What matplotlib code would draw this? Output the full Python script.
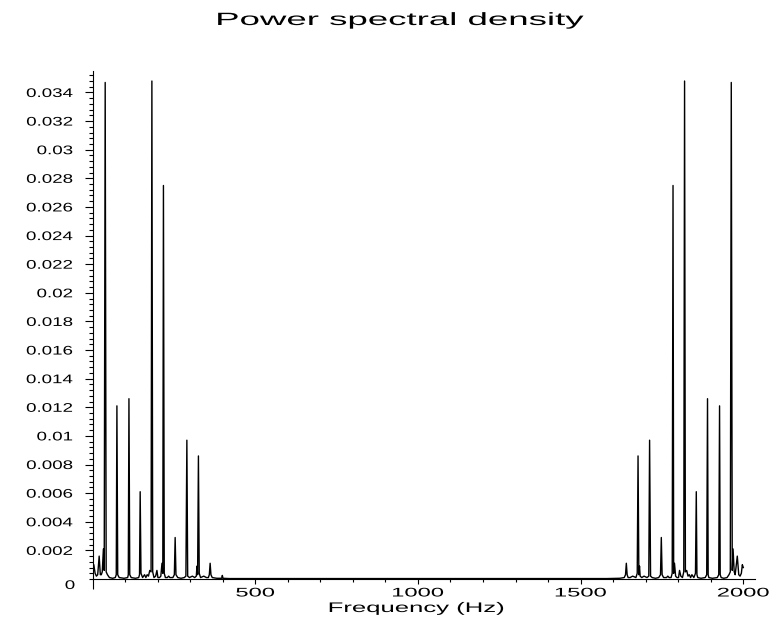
import matplotlib
matplotlib.use('Agg')
import matplotlib.pyplot as plt
from matplotlib.patheffects import AbstractPathEffect
from matplotlib.transforms import Affine2D
from matplotlib.ticker import MultipleLocator

plt.rcParams['font.family'] = ['Liberation Sans', 'DejaVu Sans']

# 低频一侧 (Hz, PSD)
left_freq = [0, 4, 8, 12, 16, 20.5, 24, 27, 30, 33.5, 36, 39, 42, 46, 52, 62,
             70, 73, 75, 77.5, 82, 97, 108, 110, 112, 114.5, 119, 132, 142,
             144.5, 146.5, 149, 154, 160, 164, 168, 172, 176, 180, 182.5, 185,
             189, 194, 198, 201, 206, 210, 213.5, 216, 218, 220.5, 224, 230,
             234, 238, 247, 251.5, 254, 256.5, 262, 272, 282, 287, 290, 292.5,
             298, 307, 314, 319, 321, 323, 325.5, 328, 332, 342, 350, 356, 359,
             361.5, 364, 368, 382, 397, 399, 401, 420]
left_psd = [0.0008, 0.0010, 0.0004, 0.0002, 0.0003, 0.0016, 0.0003, 0.0003,
            0.0005, 0.0021, 0.0006, 0.0347, 0.0005, 0.0003, 0.0001, 0.00005,
            0.0001, 0.0003, 0.0121, 0.0003, 0.0001, 0.00005, 0.0001, 0.0003,
            0.0126, 0.0003, 0.0001, 0.00005, 0.0001, 0.0003, 0.0061, 0.0004,
            0.0001, 0.0003, 0.0001, 0.0003, 0.0002, 0.0006, 0.0005, 0.0348,
            0.0005, 0.0001, 0.0002, 0.0006, 0.0001, 0.0001, 0.0002, 0.0011,
            0.0004, 0.0275, 0.0004, 0.0001, 0.0001, 0.0002, 0.0001, 0.0001,
            0.0003, 0.0029, 0.0003, 0.0001, 0.00005, 0.0001, 0.0002, 0.0097,
            0.0002, 0.0001, 0.0002, 0.0001, 0.0002, 0.0009, 0.0003, 0.0086,
            0.0004, 0.0001, 0.0002, 0.0001, 0.0001, 0.0003, 0.0011, 0.0003,
            0.0001, 0.00005, 0.00005, 0.00025, 0.00005, 0.00003]

# 高频一侧 (Hz, PSD)
right_freq = [1580, 1620, 1634, 1638, 1640.5, 1643, 1646,
              1652, 1660, 1670, 1674, 1676.5, 1679, 1681, 1683, 1688, 1695,
              1704, 1709.5, 1712, 1715, 1720, 1730, 1740, 1745.5, 1748, 1750.5,
              1755, 1764, 1768, 1772, 1778, 1781.5, 1784, 1786, 1788.5, 1792,
              1796, 1801, 1804, 1808, 1813, 1817, 1819.5, 1822, 1826, 1830,
              1834, 1838, 1842, 1848, 1853, 1855.5, 1857.5, 1860, 1870, 1883,
              1887.5, 1890, 1892, 1894, 1905, 1920, 1924.5, 1927, 1929, 1932,
              1940, 1950, 1956, 1960, 1963, 1966, 1968.5, 1972, 1975, 1981.5,
              1986, 1990, 1994, 1997, 2000]
right_psd = [0.00003, 0.00005, 0.0001, 0.0003,
             0.0011, 0.0003, 0.0001, 0.0001, 0.0002, 0.0001, 0.0004, 0.0086,
             0.0003, 0.0009, 0.0002, 0.0001, 0.0002, 0.0001, 0.0002, 0.0097,
             0.0002, 0.0001, 0.00005, 0.0001, 0.0003, 0.0029, 0.0003, 0.0001,
             0.0001, 0.0002, 0.0001, 0.0001, 0.0004, 0.0275, 0.0004, 0.0011,
             0.0002, 0.0001, 0.0001, 0.0006, 0.0002, 0.0001, 0.0005, 0.0348,
             0.0005, 0.0006, 0.0002, 0.0003, 0.0001, 0.0003, 0.0001, 0.0004,
             0.0061, 0.0003, 0.0001, 0.00005, 0.0001, 0.0003, 0.0126, 0.0003,
             0.0001, 0.00005, 0.0001, 0.0003, 0.0121, 0.0003, 0.0001, 0.00005,
             0.0001, 0.0003, 0.0005, 0.0347, 0.0006, 0.0021, 0.0005, 0.0003,
             0.0016, 0.0003, 0.0002, 0.0004, 0.0010, 0.0008]

xtick_vals = [0, 500, 1000, 1500, 2000]
xtick_labels = ['', '500', '1000', '1500', '2000']
ytick_vals = [0.002, 0.004, 0.006, 0.008, 0.010, 0.012, 0.014, 0.016, 0.018,
              0.020, 0.022, 0.024, 0.026, 0.028, 0.030, 0.032, 0.034]
ytick_labels = ['0.002', '0.004', '0.006', '0.008', '0.01', '0.012', '0.014',
                '0.016', '0.018', '0.02', '0.022', '0.024', '0.026', '0.028',
                '0.03', '0.032', '0.034']


class Widen(AbstractPathEffect):
    """把文字横向拉宽 (Maple 的字体很宽)"""

    def __init__(self, sx, where=0.5):
        super().__init__()
        self.sx = sx
        self.where = where

    def draw_path(self, renderer, gc, tpath, affine, rgbFace=None):
        ext = tpath.get_extents(affine)
        cx = ext.x0 + self.where * ext.width
        wide = Affine2D(affine.get_matrix()).translate(-cx, 0).scale(self.sx, 1).translate(cx, 0)
        renderer.draw_path(gc, tpath, wide, rgbFace)


fig = plt.figure(figsize=(7.7, 6.18), dpi=100)
ax = fig.add_axes([92.5 / 770, 39 / 618, 662.2 / 770, 508 / 618])

ax.plot(left_freq + right_freq, left_psd + right_psd, color='black', lw=1.0)

ax.set_xlim(0, 2035)
ax.set_ylim(0, 0.0355)
for s in ['top', 'right']:
    ax.spines[s].set_visible(False)
for s in ['left', 'bottom']:
    ax.spines[s].set_linewidth(0.8)

ax.set_xticks(xtick_vals)
ax.set_xticklabels(xtick_labels)
ax.set_yticks(ytick_vals)
ax.set_yticklabels(ytick_labels)
ax.xaxis.set_minor_locator(MultipleLocator(100))
ax.yaxis.set_minor_locator(MultipleLocator(0.0004))

ax.tick_params(axis='y', which='major', length=5.8, width=0.8, pad=8.4, labelsize=9)
ax.tick_params(axis='y', which='minor', length=3.2, width=0.8)
ax.tick_params(axis='x', which='major', length=3.6, width=0.8, pad=2.5, labelsize=9)
ax.tick_params(axis='x', which='minor', length=1.8, width=0.8)
ax.xaxis.get_major_ticks()[0].tick1line.set_markersize(7.2)

for t in ax.get_yticklabels():
    t.set_path_effects([Widen(1.5, 1.0)])
for t in ax.get_xticklabels():
    t.set_path_effects([Widen(1.9, 0.5)])

# 原点的 0 标签比其它的低一点
ax.annotate('0', xy=(0, 0), xytext=(-12.6, -5.0), textcoords='offset points',
            ha='right', va='center', fontsize=9, path_effects=[Widen(1.5, 1.0)])

ax.set_xlabel('Frequency (Hz)', fontsize=10, va='baseline', path_effects=[Widen(1.85, 0.5)])
ax.xaxis.set_label_coords((416.5 - 92.5) / 662.2, (579 - 612) / 508)

fig.text(400 / 770, 1 - 25 / 618, 'Power spectral density', ha='center', va='baseline',
         fontsize=12.8, path_effects=[Widen(2.06, 0.5)])

fig.savefig('out.png', dpi=100)
